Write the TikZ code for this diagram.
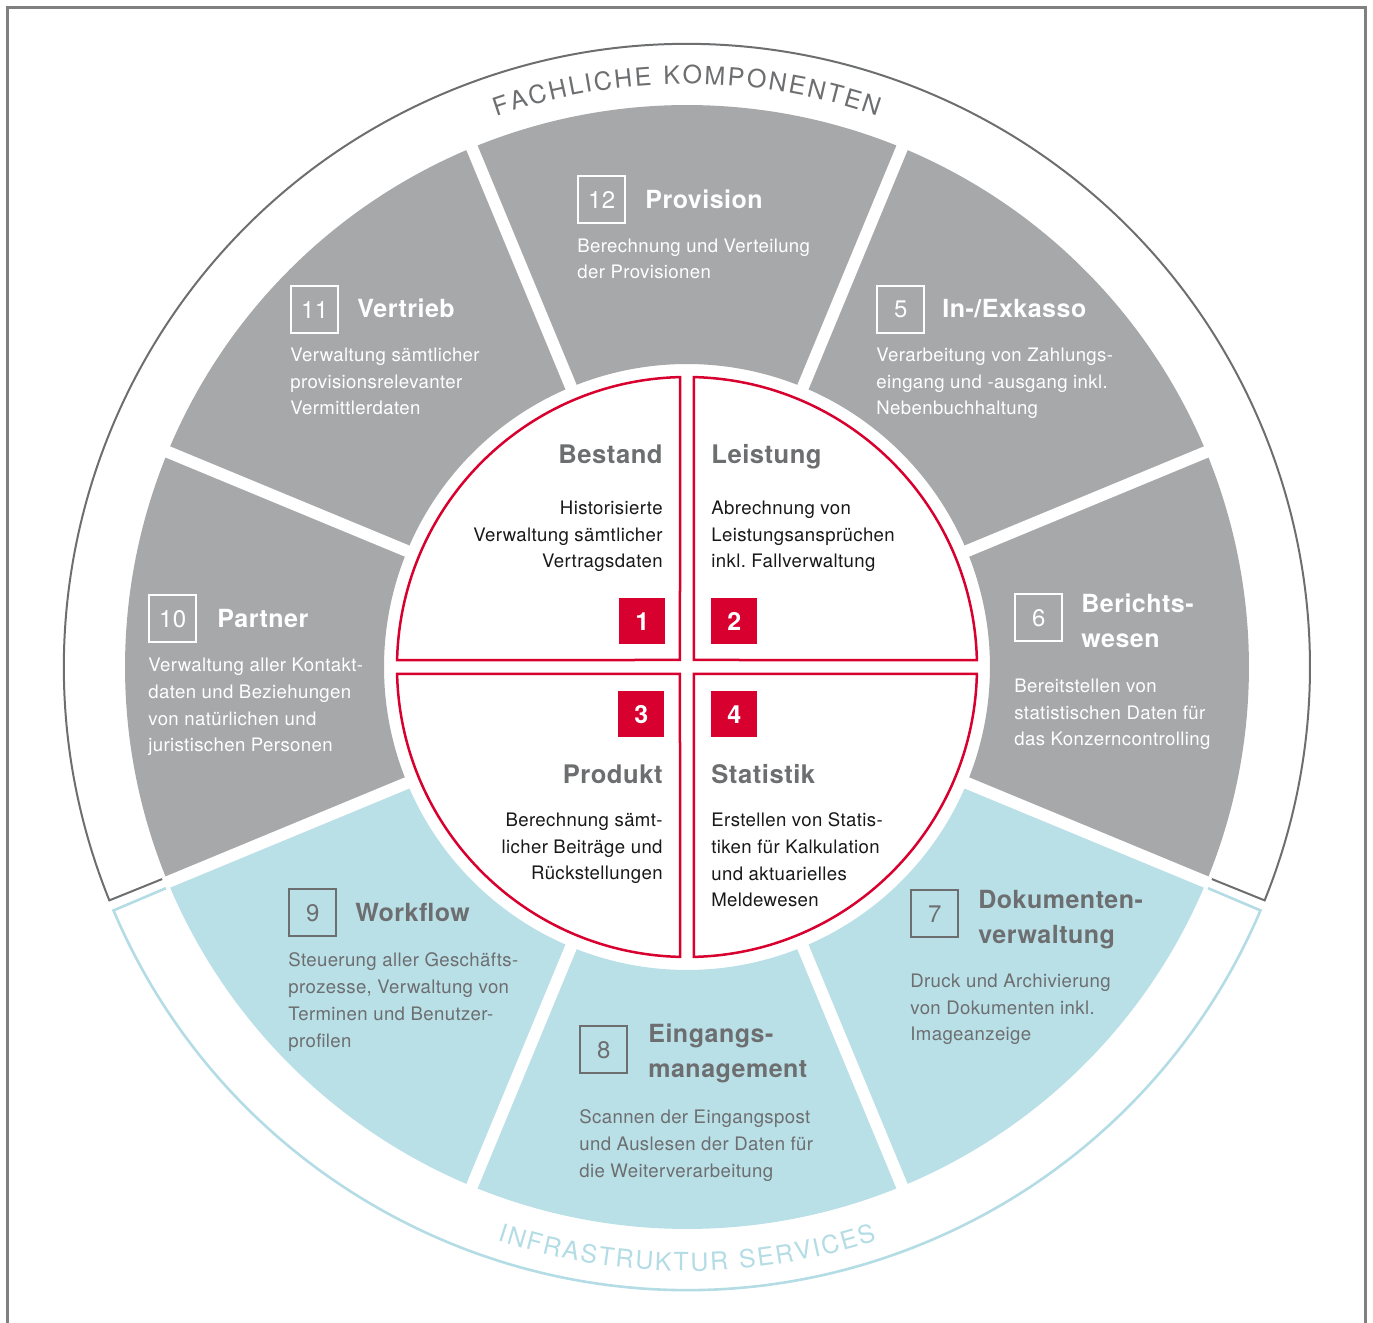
\documentclass[tikz,border=0pt]{standalone}
\usepackage{fontspec}
\setmainfont[LetterSpace=2]{TeX Gyre Heros}
\usetikzlibrary{decorations.text}
\frenchspacing

\definecolor{segGray}{HTML}{A7A8AA}
\definecolor{segBlue}{HTML}{B9DFE7}
\definecolor{lineGray}{HTML}{6D6E70}
\definecolor{lineBlue}{HTML}{B3DCE5}
\definecolor{textGray}{HTML}{6D6E70}
\definecolor{boxRed}{HTML}{D7002E}
\definecolor{frameGray}{HTML}{808080}

\begin{document}
\begin{tikzpicture}[
  x=0.5pt, y=0.5pt,
  every node/.style = {inner sep=0pt},
  gap/.style = {draw=white, line width=6pt},
  quarter/.style = {draw=boxRed, fill=white, line width=1.25pt},
  numbox/.style = {draw=#1, text=#1, line width=1.2pt, minimum size=23.5pt,
    font=\fontsize{12}{12}\selectfont},
  redbox/.style = {fill=boxRed, text=white, minimum size=23pt,
    font=\fontsize{12.5}{12.5}\selectfont\bfseries},
  head/.style = {text=#1, align=left, font=\fontsize{12.5}{17.5}\selectfont\bfseries},
  desc/.style = {text=#1, align=left, font=\fontsize{9.3}{13.35}\selectfont},
  inhead/.style = {text=textGray, font=\fontsize{12.8}{12.8}\selectfont\bfseries},
  indesc/.style = {text=black!90, align=#1, font=\fontsize{9.3}{13.35}\selectfont}
]
\useasboundingbox (-687,-656) rectangle (686,667);

% frame
\draw[frameGray, line width=1.5pt] (-679,-656) -- (-679,659) -- (679,659) -- (679,-656);

% outer rings
\draw[lineGray, line width=1pt] (202:565) -- (202:623) arc (202:-22:623) -- (-22:565);
\draw[lineBlue, line width=1.3pt] (203:564) -- (203:623) arc (203:337:623) -- (337:564);
\path[decorate, decoration={text along path, text align={fit to path}, text color=textGray,
  text={|\fontsize{12.5}{12.5}\selectfont|FACHLICHE KOMPONENTEN}}] (109.1:583) arc (109.1:70.9:583);
\path[decorate, decoration={text along path, text align={fit to path}, text color=lineBlue,
  text={|\fontsize{12.5}{12.5}\selectfont|INFRASTRUKTUR SERVICES}}] (251.7:604) arc (251.7:288.3:604);

% sectors
\foreach \a/\c in {0/segGray, 45/segGray, 90/segGray, 135/segGray, 180/segGray,
                   225/segBlue, 270/segBlue, 315/segBlue}
  \fill[\c] ({\a-22.5}:303) -- ({\a-22.5}:562) arc ({\a-22.5}:{\a+22.5}:562)
    -- ({\a+22.5}:303) arc ({\a+22.5}:{\a-22.5}:303) -- cycle;
\foreach \a in {22.5, 67.5, ..., 337.5}
  \draw[gap] (\a:296) -- (\a:566);

% inner quarters
\foreach \r in {0, 90, 180, 270}
  \draw[quarter, rotate=\r] (7,7) -- (88.62:290) arc (88.62:1.38:290) -- cycle;

\begin{scope}[shift={(-687,667)}, yscale=-1]
  % fachliche komponenten (base = last line)
  \node[numbox=white, anchor=north west] (n12) at (577,175) {12};
  \node[head=white, anchor=base west] (h12) at (645,209) {Provision};
  \node[desc=white, anchor=base west] (d12) at (577,279) {Berechnung und Verteilung\\der Provisionen};

  \node[numbox=white, anchor=north west] (n11) at (290,285) {11};
  \node[head=white, anchor=base west] (h11) at (357,318) {Vertrieb};
  \node[desc=white, anchor=base west] (d11) at (290,415) {Verwaltung sämtlicher\\provisionsrelevanter\\Vermittlerdaten};

  \node[numbox=white, anchor=north west] (n5) at (876,285) {5};
  \node[head=white, anchor=base west] (h5) at (942,318) {In-/Exkasso};
  \node[desc=white, anchor=base west] (d5) at (876,415) {Verarbeitung von Zahlungs-\\eingang und -ausgang inkl.\\Nebenbuchhaltung};

  \node[numbox=white, anchor=north west] (n10) at (148,594) {10};
  \node[head=white, anchor=base west] (h10) at (217,628) {Partner};
  \node[desc=white, anchor=base west] (d10) at (148,752) {Verwaltung aller Kontakt-\\daten und Beziehungen\\von natürlichen und\\juristischen Personen};

  \node[numbox=white, anchor=north west] (n6) at (1014,593) {6};
  \node[head=white, anchor=base west] (h6) at (1081,648) {Berichts-\\wesen};
  \node[desc=white, anchor=base west] (d6) at (1014,746) {Bereitstellen von\\statistischen Daten für\\das Konzerncontrolling};

  % infrastruktur services
  \node[numbox=textGray, anchor=north west] (n9) at (288,888) {9};
  \node[head=textGray, anchor=base west] (h9) at (355,922) {Workflow};
  \node[desc=textGray, anchor=base west] (d9) at (288,1047) {Steuerung aller Geschäfts-\\prozesse, Verwaltung von\\Terminen und Benutzer-\\profilen};

  \node[numbox=textGray, anchor=north west] (n7) at (910,889) {7};
  \node[head=textGray, anchor=base west] (h7) at (978,944) {Dokumenten-\\verwaltung};
  \node[desc=textGray, anchor=base west] (d7) at (910,1041) {Druck und Archivierung\\von Dokumenten inkl.\\Imageanzeige};

  \node[numbox=textGray, anchor=north west] (n8) at (579,1025) {8};
  \node[head=textGray, anchor=base west] (h8) at (648,1078) {Eingangs-\\management};
  \node[desc=textGray, anchor=base west] (d8) at (579,1177) {Scannen der Eingangspost\\und Auslesen der Daten für\\die Weiterverarbeitung};

  % kern
  \node[inhead, anchor=base east] (h1) at (663,464) {Bestand};
  \node[indesc=right, anchor=base east] (d1) at (663,568) {Historisierte\\Verwaltung sämtlicher\\Vertragsdaten};
  \node[redbox, anchor=north west] (q1) at (619,598) {1};

  \node[inhead, anchor=base west] (h2) at (711,464) {Leistung};
  \node[indesc=left, anchor=base west] (d2) at (711,568) {Abrechnung von\\Leistungsansprüchen\\inkl. Fallverwaltung};
  \node[redbox, anchor=north west] (q2) at (711,598) {2};

  \node[redbox, anchor=north west] (q3) at (618,691) {3};
  \node[inhead, anchor=base east] (h3) at (663,784) {Produkt};
  \node[indesc=right, anchor=base east] (d3) at (663,880) {Berechnung sämt-\\licher Beiträge und\\Rückstellungen};

  \node[redbox, anchor=north west] (q4) at (711,691) {4};
  \node[inhead, anchor=base west] (h4) at (711,784) {Statistik};
  \node[indesc=left, anchor=base west] (d4) at (711,907) {Erstellen von Statis-\\tiken für Kalkulation\\und aktuarielles\\Meldewesen};
\end{scope}
\end{tikzpicture}
\end{document}
